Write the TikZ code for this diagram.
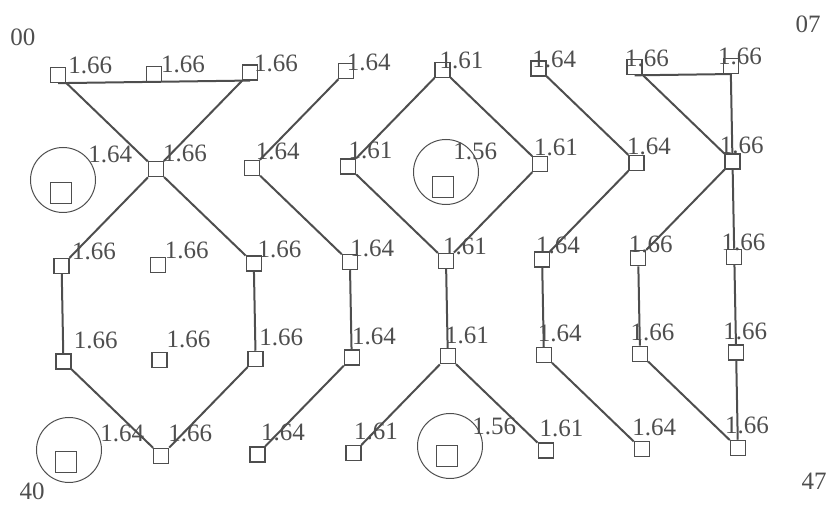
\documentclass[tikz,border=0pt]{standalone}
\usepackage{fontspec}
\setmainfont{Liberation Serif}
\definecolor{ink}{RGB}{78,78,78}

\begin{document}
\begin{tikzpicture}[x=0.5pt,y=-0.5pt,
  cell/.style={draw=ink,fill=white,line width=0.65pt,minimum size=7.5pt,inner sep=0pt},
  bigcell/.style={cell,minimum size=10.5pt},
  ring/.style={draw=ink,circle,line width=0.5pt,minimum size=32.5pt,inner sep=0pt},
  val/.style={text=ink,font=\fontsize{12.5}{14}\selectfont,inner sep=0pt,anchor=base west},
  corner/.style={text=ink,font=\fontsize{12.5}{14}\selectfont,inner sep=0pt},
  link/.style={draw=ink,line width=1pt}]
\useasboundingbox (0,0) rectangle (831,506);
% corner indices
\node[corner] (k00) at (23,37) {00};
\node[corner] (k07) at (808,24) {07};
\node[corner] (k40) at (32,491) {40};
\node[corner] (k47) at (814,481) {47};
% plain cells and their values, row by row
\foreach \r/\rise/\list in {
  0/1/{0/1.66,1/1.66,2/1.66,3/1.64,4/1.61,5/1.64,6/1.66,7/1.66},
  1/8/{1/1.66,2/1.64,3/1.61,5/1.61,6/1.64,7/1.66},
  2/6/{0/1.66,1/1.66,2/1.66,3/1.64,4/1.61,5/1.64,6/1.66,7/1.66},
  3/13/{0/1.66,1/1.66,2/1.66,3/1.64,4/1.61,5/1.64,6/1.66,7/1.66},
  4/14/{1/1.66,2/1.64,3/1.61,5/1.61,6/1.64,7/1.66}}
  \foreach \c/\v in \list {
    \node[cell] (n\r\c) at ({58+96.1*\c+1.8*\r},{75+95.5*\r-1.3*\c}) {};
    \node[val] (l\r\c) at ({68+92.8*\c+1.8*\r},{75+95.5*\r-1.3*\c-\rise}) {\v};
  }
% ringed cells
\foreach \n/\cx/\cy/\sx/\sy/\lx/\ly/\v in {10/63/180/61/193/88/163/1.64,
  40/69/450/66/462/100/442/1.64,14/446/172/443/187/453/160/1.56,
  44/450/446/447/456/472/435/1.56} {
  \node[ring] (ring\n) at (\cx,\cy) {};
  \node[bigcell] (n\n) at (\sx,\sy) {};
  \node[val] (l\n) at (\lx,\ly) {\v};
}
% connectors
\draw[link] (n00.south) -- (n02.south);
\draw[link] (n06.south) -- (n07.south);
\foreach \a/\b in {00/11,02/11,11/20,11/22,20/30,22/32,30/41,32/41,
  03/12,12/23,23/33,33/42,
  04/13,13/24,04/15,15/24,24/34,34/43,34/45,
  05/16,16/25,25/35,35/46,
  06/17,07/17,17/26,17/27,26/36,36/47,27/37,37/47}
  \draw[link] (n\a) -- (n\b);
\end{tikzpicture}
\end{document}
